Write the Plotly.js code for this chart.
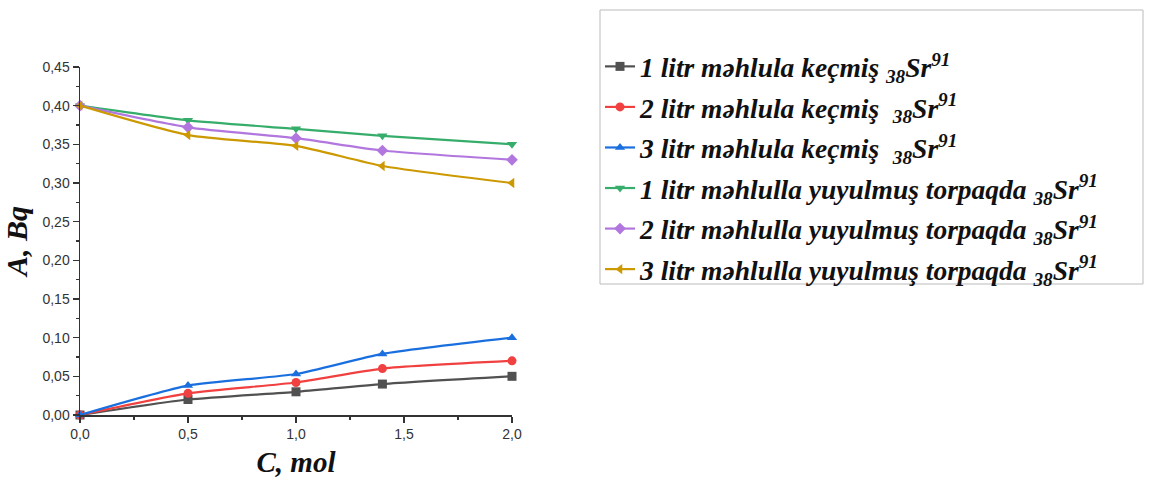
<!DOCTYPE html>
<html><head><meta charset="utf-8">
<script src="https://cdn.plot.ly/plotly-3.0.1.min.js"></script>
<style>html,body{margin:0;padding:0;background:#fff}#c{width:1150px;height:482px}</style>
</head><body><div id="c"></div>
<script>
const concentration = [0, 0.5, 1.0, 1.4, 2.0];
const passed1L = [0, 0.020, 0.030, 0.040, 0.050];
const passed2L = [0, 0.028, 0.042, 0.060, 0.070];
const passed3L = [0, 0.038, 0.053, 0.079, 0.100];
const washed1L = [0.400, 0.381, 0.370, 0.361, 0.350];
const washed2L = [0.400, 0.372, 0.358, 0.342, 0.330];
const washed3L = [0.400, 0.362, 0.348, 0.322, 0.300];
const seriesNames = [
  "1 litr məhlula keçmiş <sub>38</sub>Sr<sup>91</sup>",
  "2 litr məhlula keçmiş  <sub>38</sub>Sr<sup>91</sup>",
  "3 litr məhlula keçmiş  <sub>38</sub>Sr<sup>91</sup>",
  "1 litr məhlulla yuyulmuş torpaqda <sub>38</sub>Sr<sup>91</sup>",
  "2 litr məhlulla yuyulmuş torpaqda <sub>38</sub>Sr<sup>91</sup>",
  "3 litr məhlulla yuyulmuş torpaqda <sub>38</sub>Sr<sup>91</sup>"
];
const seriesValues = [passed1L, passed2L, passed3L, washed1L, washed2L, washed3L];
const colors = ["#515151", "#F14040", "#1A6FDF", "#37AD6B", "#B177DE", "#CC9900"];
const symbols = ["square", "circle", "triangle-up", "triangle-down", "diamond", "triangle-left"];

const traces = seriesValues.map((v, i) => ({
  x: concentration, y: v, name: "<b><i>" + seriesNames[i] + "</i></b>", type: "scatter", mode: "lines+markers",
  legendgroup: "g" + i,
  line: {color: colors[i], width: 2.2, shape: "spline", smoothing: 0.6},
  marker: {color: colors[i], symbol: symbols[i], size: 9},
  cliponaxis: false
}));

const serif = "Liberation Serif, Times New Roman, serif";
const layout = {
  width: 1150, height: 482,
  margin: {l: 80, r: 638, t: 67, b: 67},
  paper_bgcolor: "#fff", plot_bgcolor: "#fff",
  separators: ", ",
  showlegend: true,
  xaxis: {
    range: [0, 2], dtick: 0.5, tick0: 0, tickformat: ".1f",
    showgrid: false, zeroline: false, showline: true, linecolor: "#333", linewidth: 1.5,
    ticks: "outside", ticklen: 6, tickcolor: "#333", tickwidth: 1.2,
    minor: {dtick: 0.25, ticks: "outside", ticklen: 3, tickcolor: "#333"},
    tickfont: {family: "Liberation Sans, Arial, sans-serif", size: 14, color: "#333"},
    title: {text: "<b><i>C, mol</i></b>", font: {family: serif, size: 29, color: "#111"}, standoff: 10}
  },
  yaxis: {
    range: [0, 0.45], dtick: 0.05, tick0: 0, tickformat: ".2f",
    showgrid: false, zeroline: false, showline: true, linecolor: "#333", linewidth: 1.5,
    ticks: "outside", ticklen: 6, tickcolor: "#333", tickwidth: 1.2,
    minor: {dtick: 0.025, ticks: "outside", ticklen: 3, tickcolor: "#333"},
    tickfont: {family: "Liberation Sans, Arial, sans-serif", size: 14, color: "#333"},
    title: {text: "<b><i>A, Bq</i></b>", font: {family: serif, size: 30, color: "#111"}, standoff: 6}
  },
  legend: {
    xref: "container", yref: "container",
    x: 600 / 1150, y: 1 - 42 / 482, xanchor: "left", yanchor: "top",
    bgcolor: "rgba(0,0,0,0)", borderwidth: 0,
    font: {family: serif, size: 27.5, color: "#111"},
    itemwidth: 30, tracegroupgap: 1.8, maxheight: 440
  },
  shapes: [{
    type: "rect", xref: "paper", yref: "paper",
    x0: (600 - 80) / 432, x1: (1143 - 80) / 432,
    y0: (415 - 284) / 348, y1: (415 - 10) / 348,
    line: {color: "#bbb", width: 1}, fillcolor: "rgba(0,0,0,0)"
  }]
};
Plotly.newPlot("c", traces, layout, {staticPlot: true, displayModeBar: false});
</script></body></html>
